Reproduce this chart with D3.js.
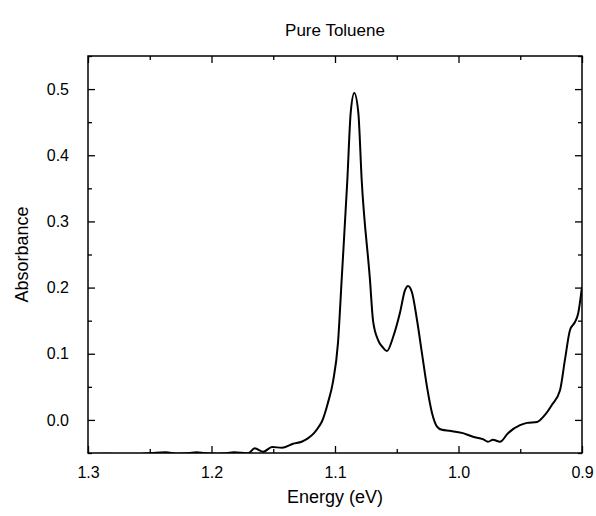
<!DOCTYPE html>
<html>
<head>
<meta charset="utf-8">
<script src="https://cdn.jsdelivr.net/npm/d3@7"></script>
<style>
  body { margin: 0; background: #fff; }
  svg text { font-family: Arial, "Liberation Sans", sans-serif; fill: #000; }
</style>
</head>
<body>
<div id="chart"></div>
<script>
// spectrum (energy in eV, absorbance)
var energy = [1.300, 1.285, 1.270, 1.255, 1.245, 1.237, 1.228, 1.219, 1.212, 1.205,
  1.195, 1.188, 1.182, 1.176, 1.1704, 1.165, 1.158, 1.151, 1.143, 1.134,
  1.127, 1.122, 1.117, 1.113, 1.1105, 1.1057, 1.1016, 1.0976, 1.0946, 1.0900,
  1.0873, 1.0844, 1.0811, 1.0784, 1.0717, 1.0692, 1.0652, 1.0610, 1.0579, 1.0530,
  1.0474, 1.0433, 1.0409, 1.0377, 1.0336, 1.0296, 1.0255, 1.0215, 1.0174, 1.0134,
  1.0069, 0.9964, 0.9883, 0.9802, 0.9761, 0.9721, 0.9664, 0.9599, 0.9502, 0.9445,
  0.9364, 0.9300, 0.9243, 0.9178, 0.9138, 0.9097, 0.9057, 0.9032, 0.9000];
var absorbance = [-0.052, -0.051, -0.052, -0.051, -0.0495, -0.049, -0.051, -0.0505, -0.049, -0.0505,
  -0.051, -0.0505, -0.049, -0.0495, -0.0505, -0.043, -0.048, -0.041, -0.042, -0.036,
  -0.033, -0.028, -0.020, -0.010, -0.002, 0.026, 0.058, 0.116, 0.212, 0.363,
  0.464, 0.494, 0.464, 0.363, 0.212, 0.150, 0.121, 0.109, 0.104, 0.125,
  0.162, 0.196, 0.2025, 0.193, 0.151, 0.101, 0.050, 0.011, -0.010, -0.015,
  -0.0165, -0.020, -0.0255, -0.029, -0.033, -0.030, -0.033, -0.020, -0.008, -0.0045,
  -0.003, 0.0076, 0.023, 0.045, 0.091, 0.136, 0.148, 0.160, 0.201];

var xTicks = [1.3, 1.2, 1.1, 1.0, 0.9];
var xMinor = [1.25, 1.15, 1.05, 0.95];
var yTicks = [0.0, 0.1, 0.2, 0.3, 0.4, 0.5];
var yMinor = [-0.05, 0.05, 0.15, 0.25, 0.35, 0.45, 0.55];

var title = "Pure Toluene";
var xTitle = "Energy (eV)";
var yTitle = "Absorbance";

var width = 596, height = 516;
var margin = {top: 56, right: 14, bottom: 63, left: 88};
var w = width - margin.left - margin.right,
    h = height - margin.top - margin.bottom;

var svg = d3.select("#chart").append("svg")
  .attr("width", width)
  .attr("height", height);

var g = svg.append("g")
  .attr("transform", "translate(" + margin.left + "," + margin.top + ")");

var x = d3.scaleLinear().domain([1.3, 0.9]).range([0, w]);
var y = d3.scaleLinear().domain([-0.05, 0.55]).range([h, 0]);

var data = energy.map(function(e, i) { return {e: e, a: absorbance[i]}; });

g.append("clipPath").attr("id", "clip")
  .append("rect").attr("width", w).attr("height", h);

var line = d3.line()
  .x(function(d) { return x(d.e); })
  .y(function(d) { return y(d.a); })
  .curve(d3.curveMonotoneX);

g.append("path")
  .datum(data)
  .attr("clip-path", "url(#clip)")
  .attr("fill", "none")
  .attr("stroke", "#000")
  .attr("stroke-width", 2)
  .attr("stroke-linejoin", "round")
  .attr("d", line);

// axes, ticks pointing in
function styleAxis(sel) {
  sel.select(".domain").remove();
  sel.selectAll("line").attr("stroke", "#000").attr("stroke-width", 1.3);
  sel.selectAll("text").attr("font-size", 16).style("font-family", "Arial, 'Liberation Sans', sans-serif");
}

var fmt = d3.format(".1f");

g.append("g").attr("transform", "translate(0," + h + ")")
  .call(d3.axisBottom(x).tickValues(xTicks).tickFormat(fmt).tickSizeInner(-7).tickSizeOuter(0).tickPadding(14))
  .call(styleAxis);
g.append("g").attr("transform", "translate(0," + h + ")")
  .call(d3.axisBottom(x).tickValues(xMinor).tickFormat("").tickSizeInner(-4).tickSizeOuter(0))
  .call(styleAxis);
g.append("g")
  .call(d3.axisTop(x).tickValues(xTicks).tickFormat("").tickSizeInner(-7).tickSizeOuter(0))
  .call(styleAxis);
g.append("g")
  .call(d3.axisTop(x).tickValues(xMinor).tickFormat("").tickSizeInner(-4).tickSizeOuter(0))
  .call(styleAxis);

g.append("g")
  .call(d3.axisLeft(y).tickValues(yTicks).tickFormat(fmt).tickSizeInner(-7).tickSizeOuter(0).tickPadding(19))
  .call(styleAxis);
g.append("g")
  .call(d3.axisLeft(y).tickValues(yMinor).tickFormat("").tickSizeInner(-4).tickSizeOuter(0))
  .call(styleAxis);
g.append("g").attr("transform", "translate(" + w + ",0)")
  .call(d3.axisRight(y).tickValues(yTicks).tickFormat("").tickSizeInner(-7).tickSizeOuter(0))
  .call(styleAxis);
g.append("g").attr("transform", "translate(" + w + ",0)")
  .call(d3.axisRight(y).tickValues(yMinor).tickFormat("").tickSizeInner(-4).tickSizeOuter(0))
  .call(styleAxis);

// frame
g.append("rect")
  .attr("width", w).attr("height", h)
  .attr("fill", "none").attr("stroke", "#000").attr("stroke-width", 1.5);

svg.append("text")
  .attr("x", margin.left + w / 2).attr("y", 36)
  .attr("text-anchor", "middle").attr("font-size", 17)
  .text(title);

svg.append("text")
  .attr("x", margin.left + w / 2).attr("y", 503)
  .attr("text-anchor", "middle").attr("font-size", 18)
  .text(xTitle);

svg.append("text")
  .attr("transform", "translate(28," + (margin.top + h / 2) + ") rotate(-90)")
  .attr("text-anchor", "middle").attr("font-size", 18)
  .text(yTitle);
</script>
</body>
</html>
